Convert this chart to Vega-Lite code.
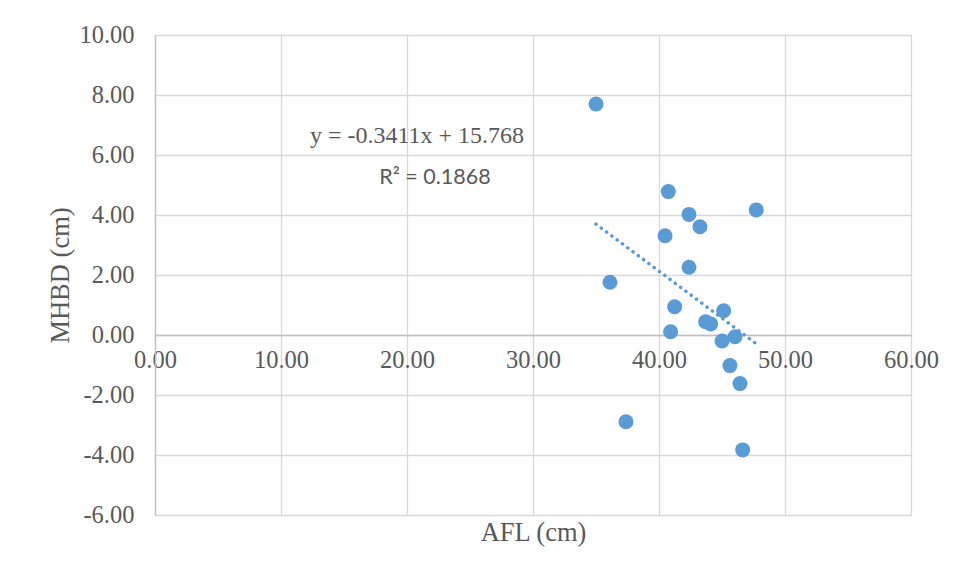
{
  "$schema": "https://vega.github.io/schema/vega-lite/v6.json",
  "autosize": {"type": "none"},
  "width": 756,
  "height": 480,
  "padding": {"left": 155, "top": 35, "right": 56, "bottom": 65},
  "background": "#ffffff",
  "config": {
    "view": {"stroke": null},
    "axis": {
      "labelFont": "Liberation Serif",
      "labelFontSize": 24.5,
      "labelColor": "#595959",
      "labelFlush": false,
      "labelOverlap": false,
      "titleFont": "Liberation Serif",
      "titleFontSize": 26.5,
      "titleFontWeight": "normal",
      "titleColor": "#595959",
      "gridColor": "#d9d9d9",
      "gridWidth": 1.3,
      "domainColor": "#bfbfbf",
      "domainWidth": 1.3,
      "ticks": false
    }
  },
  "datasets": {
    "points": [
      {"AFL": 35.0, "MHBD": 7.70},
      {"AFL": 40.74, "MHBD": 4.78},
      {"AFL": 42.38, "MHBD": 4.02},
      {"AFL": 43.25, "MHBD": 3.61},
      {"AFL": 47.72, "MHBD": 4.17},
      {"AFL": 40.48, "MHBD": 3.31},
      {"AFL": 42.38, "MHBD": 2.26},
      {"AFL": 36.11, "MHBD": 1.76},
      {"AFL": 41.24, "MHBD": 0.94},
      {"AFL": 45.13, "MHBD": 0.81},
      {"AFL": 43.70, "MHBD": 0.44},
      {"AFL": 44.10, "MHBD": 0.37},
      {"AFL": 40.92, "MHBD": 0.11},
      {"AFL": 46.03, "MHBD": -0.06},
      {"AFL": 45.00, "MHBD": -0.20},
      {"AFL": 45.63, "MHBD": -1.02},
      {"AFL": 46.43, "MHBD": -1.62},
      {"AFL": 37.38, "MHBD": -2.89},
      {"AFL": 46.64, "MHBD": -3.83}
    ],
    "labels": [
      {"AFL": 20.79, "MHBD": 6.63, "label": "y = -0.3411x + 15.768", "font": "serif"},
      {"AFL": 22.22, "MHBD": 5.23, "label": "R² = 0.1868", "font": "sans"}
    ]
  },
  "layer": [
    {
      "data": {"name": "points"},
      "mark": {"type": "point", "filled": true, "size": 225, "opacity": 1, "color": "#5B9BD5"},
      "encoding": {
        "x": {
          "field": "AFL", "type": "quantitative",
          "scale": {"domain": [0, 60], "nice": false, "zero": false},
          "axis": {"title": "AFL (cm)", "values": [0, 10, 20, 30, 40, 50, 60], "labelExpr": "replace(format(datum.value, '.2f'), '\u2212', '-')", "offset": -180, "labelPadding": 13, "titlePadding": 148, "grid": true}
        },
        "y": {
          "field": "MHBD", "type": "quantitative",
          "scale": {"domain": [-6, 10], "nice": false, "zero": false},
          "axis": {"title": "MHBD (cm)", "values": [-6, -4, -2, 0, 2, 4, 6, 8, 10], "labelExpr": "replace(format(datum.value, '.2f'), '\u2212', '-')", "labelPadding": 21, "titlePadding": 4, "grid": true}
        }
      }
    },
    {
      "data": {"name": "points"},
      "transform": [{"regression": "MHBD", "on": "AFL"}],
      "mark": {"type": "line", "color": "#5B9BD5", "strokeWidth": 3.5, "strokeCap": "round", "strokeDash": [0.1, 6.5]},
      "encoding": {
        "x": {"field": "AFL", "type": "quantitative"},
        "y": {"field": "MHBD", "type": "quantitative"}
      }
    },
    {
      "data": {"name": "labels"},
      "transform": [{"filter": "datum.font == 'serif'"}],
      "mark": {"type": "text", "font": "Liberation Serif", "fontSize": 24, "color": "#595959", "align": "center", "baseline": "middle"},
      "encoding": {
        "x": {"field": "AFL", "type": "quantitative"},
        "y": {"field": "MHBD", "type": "quantitative"},
        "text": {"field": "label"}
      }
    },
    {
      "data": {"name": "labels"},
      "transform": [{"filter": "datum.font == 'sans'"}],
      "mark": {"type": "text", "font": "Lato", "fontSize": 21.5, "color": "#595959", "align": "center", "baseline": "middle"},
      "encoding": {
        "x": {"field": "AFL", "type": "quantitative"},
        "y": {"field": "MHBD", "type": "quantitative"},
        "text": {"field": "label"}
      }
    }
  ]
}
